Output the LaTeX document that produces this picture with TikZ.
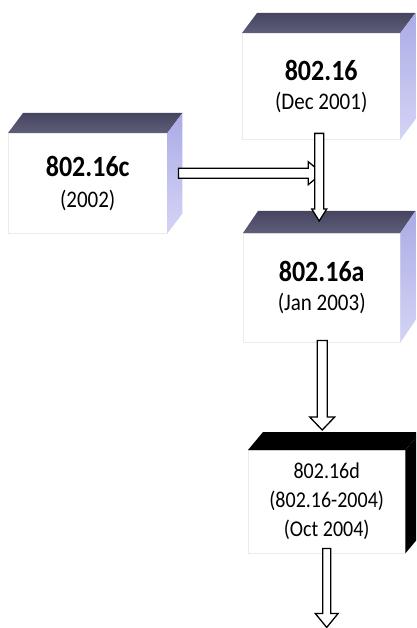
\documentclass[tikz,border=0pt]{standalone}
\usepackage{fontspec}
\setmainfont{Carlito}
\usetikzlibrary{calc}
\definecolor{topdark}{HTML}{454560}
\definecolor{toplight}{HTML}{5E5E7A}
\definecolor{sidedark}{HTML}{ABABE6}
\definecolor{sidelight}{HTML}{D4D4F6}
\newcommand\tallline[1]{\scalebox{1}[1.13]{#1}}
\tikzset{
  frontface/.style={draw=black!8, fill=white, anchor=north west, inner sep=0pt,
    align=center, font=\fontsize{21}{28}\selectfont},
  topface/.style={top color=topdark, bottom color=toplight},
  sideface/.style={top color=sidedark, bottom color=sidelight},
  topblack/.style={fill=black},
  sideblack/.style={fill=black},
  blockarrow/.style={draw=black, fill=white, line width=1.3pt, line join=miter}
}
\newcommand\cubefaces[4]{%
  \path[#3] (#1.north west) -- (#1.north east) -- ($(#1.north east)+(15,-#2)$) -- ($(#1.north west)+(15,-#2)$) -- cycle;
  \path[#4] (#1.north east) -- ($(#1.north east)+(15,-#2)$) -- ($(#1.south east)+(15,-#2)$) -- (#1.south east) -- cycle;}
\newcommand\vblock[5]{%
  \draw[blockarrow] let \p1=(#1), \p2=(#2) in
   (\x1-#3,\y1) -- (\x1+#3,\y1) -- (\x1+#3,\y2+#5) -- (\x1+#4,\y2+#5) -- (\x1,\y2)
   -- (\x1-#4,\y2+#5) -- (\x1-#3,\y2+#5) -- cycle;}
\newcommand\hblock[5]{%
  \draw[blockarrow] let \p1=(#1), \p2=(#2) in
   (\x1,\y1+#3) -- (\x2-#5,\y1+#3) -- (\x2-#5,\y1+#4) -- (\x2,\y1) -- (\x2-#5,\y1-#4)
   -- (\x2-#5,\y1-#3) -- (\x1,\y1-#3) -- cycle;}
\begin{document}
\begin{tikzpicture}[x=1pt,y=-1pt]
\useasboundingbox (0,0) rectangle (416,628);
\clip (0,0) rectangle (416,628);
\fill[white] (0,0) rectangle (416,628);
% boxes (front faces carry the text)
\node[frontface, minimum width=158, minimum height=106] (b1) at (242,33)
  {\tallline{\fontsize{26}{28}\selectfont\bfseries 802.16}\\[1pt]\tallline{(Dec 2001)}};
\node[frontface, minimum width=159, minimum height=100] (b2) at (8,133)
  {\tallline{\fontsize{26}{28}\selectfont\bfseries 802.16c}\\[3pt]\tallline{(2002)}};
\node[frontface, minimum width=157, minimum height=109] (b3) at (243,233)
  {\tallline{\fontsize{26}{28}\selectfont\bfseries 802.16a}\\[1pt]\tallline{(Jan 2003)}};
\node[frontface, minimum width=157, minimum height=103, font=\fontsize{20}{29}\selectfont] (b4) at (248,450)
  {\tallline{802.16d}\\\tallline{(802.16-2004)}\\\tallline{(Oct 2004)}};
\cubefaces{b1}{20}{topface}{sideface}
\cubefaces{b2}{20}{topface}{sideface}
\cubefaces{b3}{22}{topface}{sideface}
\cubefaces{b4}{18}{topblack}{sideblack}
% connector end points
\coordinate (a1s) at ($(b1.south)+(-2,-6)$);
\coordinate (a1t) at ($(b3.north)+(-2.5,-12)$);
\coordinate (hs) at ($(b2.east)+(11,-10)$);
\coordinate (ht) at ($(a1s |- hs)+(3,0)$);
\coordinate (a2s) at ($(b3.south)+(0.5,-2)$);
\coordinate (a2t) at ($(b4.north)+(-4.5,-20)$);
\coordinate (a3s) at ($(b4.south)+(0,-5)$);
\coordinate (a3t) at ($(b4.south)+(0,74)$);
% connectors
\hblock{hs}{ht}{5}{11.5}{14}
\vblock{a1s}{a1t}{4.5}{7.5}{12}
\vblock{a2s}{a2t}{5}{12.5}{13}
\vblock{a3s}{a3t}{4}{11.5}{14}
\end{tikzpicture}
\end{document}
